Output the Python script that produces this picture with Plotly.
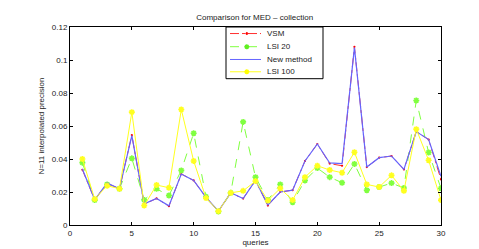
import plotly.graph_objects as go

queries = list(range(1, 31))
new_method = [0.0339, 0.0153, 0.0254, 0.0220, 0.0542, 0.0128, 0.0161, 0.0116, 0.0309, 0.0270,
              0.0167, 0.0084, 0.0195, 0.0160, 0.0270, 0.0122, 0.0200, 0.0211, 0.0388, 0.0491,
              0.0376, 0.0372, 0.1075, 0.0351, 0.0408, 0.0418, 0.0337, 0.0566, 0.0518, 0.0295]
vsm = [0.0335, 0.0153, 0.0252, 0.0220, 0.0545, 0.0126, 0.0161, 0.0114, 0.0309, 0.0270,
       0.0167, 0.0084, 0.0195, 0.0160, 0.0270, 0.0118, 0.0200, 0.0211, 0.0388, 0.0491,
       0.0372, 0.0359, 0.1080, 0.0351, 0.0408, 0.0418, 0.0337, 0.0566, 0.0518, 0.0276]
lsi20 = [0.0378, 0.0151, 0.0246, 0.0220, 0.0404, 0.0152, 0.0219, 0.0179, 0.0331, 0.0556,
         0.0171, 0.0082, 0.0195, 0.0625, 0.0290, 0.0152, 0.0246, 0.0138, 0.0270, 0.0345,
         0.0290, 0.0256, 0.0370, 0.0211, 0.0230, 0.0254, 0.0224, 0.0755, 0.0439, 0.0222]
lsi100 = [0.0400, 0.0157, 0.0238, 0.0220, 0.0684, 0.0118, 0.0242, 0.0226, 0.0700, 0.0388,
          0.0163, 0.0084, 0.0195, 0.0207, 0.0266, 0.0148, 0.0222, 0.0151, 0.0290, 0.0359,
          0.0333, 0.0317, 0.0441, 0.0246, 0.0230, 0.0301, 0.0207, 0.0581, 0.0392, 0.0151]
x_ticks = [0, 5, 10, 15, 20, 25, 30]
y_ticks = [0, 0.02, 0.04, 0.06, 0.08, 0.1, 0.12]
y_tick_labels = ["0", "0.02", "0.04", "0.06", "0.08", "0.1", "0.12"]
series_names = ["VSM", "LSI 20", "New method", "LSI 100"]

FONT = "Liberation Sans, Arial, sans-serif"
TXT = "#222"
RED, GREEN, BLUE, YELLOW = "#ff3030", "#80ff40", "#6464ff", "#ffff20"

W, H = 479, 249
ML, MR, MT, MB = 62, 46, 19, 27
PW, PH = W - ML - MR, H - MT - MB


def px(xp):
    return (xp - ML) / PW


def py(yp):
    return (H - MB - yp) / PH


fig = go.Figure()
fig.add_trace(go.Scatter(x=queries, y=vsm, name=series_names[0], mode="lines+markers",
                         line=dict(color=RED, width=1, dash="dashdot"),
                         marker=dict(symbol="circle", size=2.2, color="#ff0000")))
fig.add_trace(go.Scatter(x=queries, y=lsi20, name=series_names[1], mode="lines+markers",
                         line=dict(color=GREEN, width=1, dash="dash"),
                         marker=dict(symbol="asterisk-open", size=5,
                                     line=dict(color="#60f020", width=1.6))))
fig.add_trace(go.Scatter(x=queries, y=new_method, name=series_names[2], mode="lines",
                         line=dict(color=BLUE, width=1.2)))
fig.add_trace(go.Scatter(x=queries, y=lsi100, name=series_names[3], mode="lines+markers",
                         line=dict(color=YELLOW, width=1),
                         marker=dict(symbol="asterisk-open", size=5,
                                     line=dict(color="#ffff00", width=1.6))))

# manual legend (compact, MATLAB-like)
shapes = [dict(type="rect", xref="paper", yref="paper", x0=px(218), x1=px(315),
               y0=py(72), y1=py(19), line=dict(color="black", width=1), fillcolor="white",
               layer="above")]
annotations = []
rows = [25.7, 39.2, 52.3, 64.9]
styles = [(RED, "dashdot", "dot"), (GREEN, "dash", "star"), (BLUE, "solid", None),
          (YELLOW, "solid", "star")]
for name, ry, (col, dash, mk) in zip(series_names, rows, styles):
    shapes.append(dict(type="line", xref="paper", yref="paper", x0=px(222), x1=px(253),
                       y0=py(ry), y1=py(ry), line=dict(color=col, width=1, dash=dash),
                       layer="above"))
    if mk == "dot":
        shapes.append(dict(type="circle", xref="paper", yref="paper", x0=px(237.8), x1=px(239.8),
                           y0=py(ry + 1), y1=py(ry - 1), line=dict(color="#ff0000", width=1),
                           fillcolor="#ff0000", layer="above"))
    elif mk == "star":
        r = 2.5
        d = r * 0.7
        cx = 238.8
        path = (f"M{px(cx - r)},{py(ry)} L{px(cx + r)},{py(ry)} "
                f"M{px(cx)},{py(ry - r)} L{px(cx)},{py(ry + r)} "
                f"M{px(cx - d)},{py(ry - d)} L{px(cx + d)},{py(ry + d)} "
                f"M{px(cx - d)},{py(ry + d)} L{px(cx + d)},{py(ry - d)}")
        shapes.append(dict(type="path", xref="paper", yref="paper", path=path,
                           line=dict(color="#60f020" if col == GREEN else "#ffff00", width=1.4),
                           layer="above"))
    annotations.append(dict(text=name, xref="paper", yref="paper", x=px(257), y=py(ry),
                            xanchor="left", yanchor="middle", showarrow=False,
                            font=dict(family=FONT, size=8, color=TXT)))

axis_common = dict(showgrid=False, zeroline=False, showline=True, linecolor="black",
                   linewidth=1, mirror="ticks", ticks="inside", ticklen=3,
                   tickcolor="black", tickfont=dict(family=FONT, size=8, color=TXT))

fig.update_layout(
    width=W, height=H,
    margin=dict(l=ML, r=MR, t=MT, b=MB),
    paper_bgcolor="white", plot_bgcolor="white",
    title=dict(text="Comparison for MED – collection", x=0.515, xanchor="center",
               y=0.965, yanchor="middle", font=dict(family=FONT, size=8, color=TXT)),
    xaxis=dict(range=[0, 30], tickvals=x_ticks, ticktext=[str(v) for v in x_ticks],
               title=dict(text="queries", font=dict(family=FONT, size=8, color=TXT), standoff=2),
               **axis_common),
    yaxis=dict(range=[0, 0.12], tickvals=y_ticks, ticktext=y_tick_labels,
               title=dict(text="N=11 interpolated precision", font=dict(family=FONT, size=8, color=TXT),
                          standoff=6),
               **axis_common),
    showlegend=False,
    shapes=shapes,
    annotations=annotations,
)

fig.write_html("out.html")
